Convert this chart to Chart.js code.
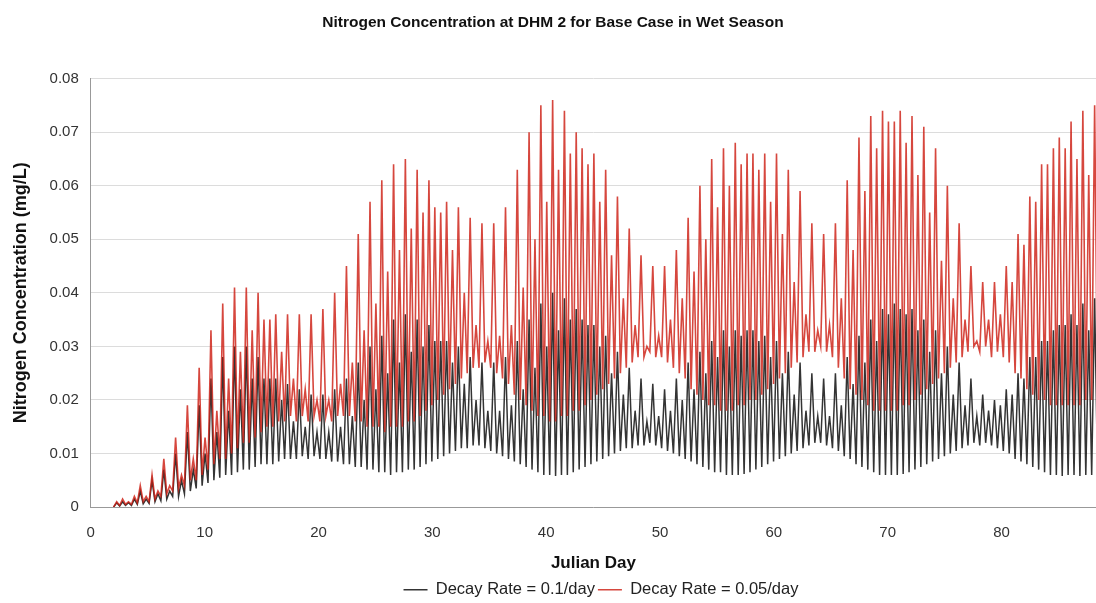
<!DOCTYPE html>
<html>
<head>
<meta charset="utf-8">
<title>Nitrogen Concentration at DHM 2</title>
<script src="https://cdn.jsdelivr.net/npm/chart.js@4.4.0/dist/chart.umd.min.js"></script>
<style>
  html, body { margin: 0; padding: 0; background: #fff; }
  #wrap { width: 1096px; height: 603px; }
</style>
</head>
<body>
<div id="wrap"><canvas id="chart" width="1096" height="603"></canvas></div>
<script>
// Model output sampled at each tidal high / low, one entry per semi-diurnal cycle.
const START_DAY = 2.0;
const FIRST_PEAK_DAY = 2.275;
const TIDE_PERIOD = 0.5175; // days between successive highs

// Decay rate = 0.05/day : concentration at each high
const redPeaks = [
  0.001, 0.0015, 0.001, 0.002, 0.004, 0.002, 0.006, 0.003, 0.009, 0.004,
  0.013, 0.006, 0.019, 0.009, 0.026, 0.013, 0.033, 0.018, 0.038, 0.024,
  0.041, 0.029, 0.041, 0.033, 0.040, 0.035, 0.035, 0.036, 0.029, 0.036,
  0.024, 0.036, 0.022, 0.036, 0.020, 0.037, 0.020, 0.040, 0.023, 0.045,
  0.027, 0.051, 0.033, 0.057, 0.038, 0.061, 0.044, 0.064, 0.048, 0.065,
  0.052, 0.063, 0.055, 0.061, 0.056, 0.055, 0.057, 0.048, 0.056, 0.040,
  0.054, 0.034, 0.053, 0.031, 0.053, 0.032, 0.056, 0.034, 0.063, 0.041,
  0.070, 0.050, 0.075, 0.057, 0.076, 0.063, 0.074, 0.066, 0.070, 0.067,
  0.064, 0.066, 0.057, 0.063, 0.047, 0.058, 0.039, 0.052, 0.034, 0.047,
  0.030, 0.045, 0.032, 0.045, 0.035, 0.048, 0.039, 0.054, 0.044, 0.060,
  0.050, 0.065, 0.056, 0.067, 0.060, 0.068, 0.064, 0.066, 0.066, 0.063,
  0.066, 0.057, 0.066, 0.051, 0.063, 0.042, 0.059, 0.036, 0.053, 0.033,
  0.051, 0.034, 0.053, 0.039, 0.061, 0.048, 0.069, 0.059, 0.073, 0.067,
  0.074, 0.072, 0.072, 0.074, 0.068, 0.073, 0.062, 0.071, 0.055, 0.067,
  0.046, 0.060, 0.039, 0.053, 0.035, 0.045, 0.031, 0.042, 0.035, 0.042,
  0.036, 0.045, 0.042, 0.051, 0.049, 0.058, 0.057, 0.064, 0.064, 0.067,
  0.069, 0.067, 0.072, 0.065, 0.074, 0.062, 0.075
];
// Decay rate = 0.05/day : concentration at the low following each high
const redTroughs = [
  0.0003, 0.0005, 0.0005, 0.0008, 0.001, 0.001,
  0.0015, 0.002, 0.0025, 0.003, 0.0035, 0.004,
  0.005, 0.005, 0.006, 0.007, 0.008, 0.009,
  0.009, 0.010, 0.011, 0.012, 0.012, 0.013,
  0.014, 0.015, 0.015, 0.016, 0.016, 0.017,
  0.016, 0.017, 0.016, 0.017, 0.016, 0.017,
  0.016, 0.017, 0.017, 0.017, 0.016, 0.016,
  0.015, 0.015, 0.015, 0.014, 0.015, 0.015,
  0.015, 0.016, 0.016, 0.017, 0.018, 0.019,
  0.020, 0.021, 0.022, 0.023, 0.024, 0.025,
  0.026, 0.026, 0.027, 0.026, 0.025, 0.024,
  0.023, 0.021, 0.020, 0.019, 0.018, 0.017,
  0.017, 0.016, 0.016, 0.017, 0.017, 0.018,
  0.018, 0.019, 0.020, 0.021, 0.022, 0.023,
  0.024, 0.025, 0.026, 0.027, 0.028, 0.028,
  0.029, 0.028, 0.028, 0.027, 0.026, 0.025,
  0.024, 0.022, 0.021, 0.020, 0.019, 0.019,
  0.018, 0.018, 0.018, 0.019, 0.019, 0.020,
  0.020, 0.021, 0.022, 0.023, 0.024, 0.025,
  0.026, 0.027, 0.028, 0.029, 0.029, 0.030,
  0.029, 0.028, 0.026, 0.024, 0.022, 0.021,
  0.020, 0.019, 0.018, 0.018, 0.018, 0.018,
  0.018, 0.019, 0.019, 0.020, 0.021, 0.022,
  0.023, 0.024, 0.025, 0.026, 0.027, 0.028,
  0.029, 0.030, 0.029, 0.030, 0.028, 0.029,
  0.028, 0.027, 0.025, 0.024, 0.022, 0.021,
  0.020, 0.020, 0.019, 0.019, 0.019, 0.019,
  0.019, 0.019, 0.020, 0.020, 0.020
];

// Decay rate = 0.1/day : concentration at each high
const blackPeaks = [
  0.0008, 0.001, 0.0008, 0.0015, 0.003, 0.0015, 0.005, 0.0025, 0.007, 0.003,
  0.010, 0.005, 0.014, 0.007, 0.019, 0.010, 0.024, 0.014, 0.028, 0.018,
  0.030, 0.022, 0.030, 0.024, 0.028, 0.024, 0.024, 0.024, 0.020, 0.023,
  0.016, 0.022, 0.015, 0.021, 0.014, 0.021, 0.014, 0.022, 0.015, 0.024,
  0.017, 0.027, 0.020, 0.030, 0.022, 0.032, 0.025, 0.035, 0.027, 0.036,
  0.029, 0.035, 0.030, 0.034, 0.031, 0.031, 0.031, 0.027, 0.030, 0.023,
  0.028, 0.020, 0.027, 0.018, 0.027, 0.018, 0.028, 0.019, 0.031, 0.022,
  0.035, 0.026, 0.038, 0.030, 0.040, 0.033, 0.039, 0.035, 0.037, 0.035,
  0.034, 0.034, 0.030, 0.032, 0.025, 0.029, 0.021, 0.026, 0.018, 0.024,
  0.016, 0.023, 0.017, 0.022, 0.018, 0.024, 0.020, 0.027, 0.022, 0.029,
  0.025, 0.031, 0.028, 0.033, 0.030, 0.033, 0.032, 0.033, 0.033, 0.031,
  0.032, 0.028, 0.031, 0.025, 0.029, 0.021, 0.027, 0.018, 0.025, 0.017,
  0.024, 0.017, 0.025, 0.019, 0.028, 0.023, 0.032, 0.027, 0.035, 0.031,
  0.037, 0.036, 0.038, 0.037, 0.036, 0.037, 0.033, 0.035, 0.029, 0.033,
  0.025, 0.030, 0.021, 0.027, 0.019, 0.024, 0.017, 0.021, 0.018, 0.020,
  0.019, 0.022, 0.021, 0.025, 0.024, 0.028, 0.028, 0.031, 0.031, 0.033,
  0.034, 0.034, 0.036, 0.034, 0.038, 0.033, 0.039
];
// Decay rate = 0.1/day : concentration at the low following each high
const blackTroughs = [
  0.0002, 0.0003, 0.0003, 0.0005, 0.0006, 0.0007,
  0.001, 0.0012, 0.0015, 0.002, 0.002, 0.0025,
  0.003, 0.0035, 0.004, 0.0045, 0.005, 0.0055,
  0.006, 0.006, 0.0065, 0.007, 0.007, 0.0075,
  0.008, 0.008, 0.008, 0.0085, 0.009, 0.009,
  0.009, 0.0095, 0.009, 0.0095, 0.009, 0.009,
  0.0085, 0.0085, 0.008, 0.008, 0.0075, 0.0075,
  0.007, 0.007, 0.0065, 0.0065, 0.006, 0.0065,
  0.0065, 0.007, 0.007, 0.0075, 0.008, 0.0085,
  0.009, 0.0095, 0.010, 0.0105, 0.011, 0.011,
  0.0115, 0.0115, 0.011, 0.0105, 0.010, 0.0095,
  0.009, 0.0085, 0.008, 0.0075, 0.007, 0.0065,
  0.006, 0.006, 0.0058, 0.006, 0.006, 0.0065,
  0.007, 0.0075, 0.008, 0.0085, 0.009, 0.0095,
  0.010, 0.0105, 0.011, 0.011, 0.0115, 0.0115,
  0.012, 0.0115, 0.011, 0.0105, 0.010, 0.0095,
  0.009, 0.0085, 0.008, 0.0075, 0.007, 0.0065,
  0.0065, 0.006, 0.006, 0.006, 0.0062, 0.0065,
  0.007, 0.0075, 0.008, 0.0085, 0.009, 0.0095,
  0.010, 0.0105, 0.011, 0.0115, 0.012, 0.012,
  0.0115, 0.011, 0.0105, 0.0095, 0.009, 0.008,
  0.0075, 0.007, 0.0065, 0.006, 0.006, 0.006,
  0.006, 0.0062, 0.0065, 0.007, 0.0075, 0.008,
  0.0085, 0.009, 0.0095, 0.010, 0.0105, 0.011,
  0.0115, 0.012, 0.0115, 0.012, 0.0115, 0.011,
  0.0105, 0.010, 0.009, 0.0085, 0.008, 0.0075,
  0.007, 0.0065, 0.006, 0.006, 0.0058, 0.006,
  0.006, 0.0058, 0.006, 0.006, 0.006
];

const SERIES_LABELS = ['Decay Rate = 0.1/day', 'Decay Rate = 0.05/day'];
const X_MAX = 88.3;
const FONT = '"Liberation Sans", Arial, sans-serif';

// interleave highs and lows on the tidal time axis
function buildSeries(peaks, troughs) {
  const pts = [{ x: START_DAY, y: 0 }];
  peaks.forEach((p, k) => {
    const t = FIRST_PEAK_DAY + k * TIDE_PERIOD;
    pts.push({ x: t, y: p });
    pts.push({ x: t + TIDE_PERIOD / 2, y: troughs[k] });
  });
  return pts;
}

// legend sits a little right of centre, under the axis title
const legendOffset = {
  id: 'legendOffset',
  afterLayout(chart) {
    const lg = chart.legend;
    lg.left += 48;
    lg.right += 48;
  },
};

Chart.defaults.font.family = FONT;
Chart.defaults.color = '#333';

new Chart(document.getElementById('chart'), {
  type: 'line',
  data: {
    datasets: [
      {
        label: SERIES_LABELS[0],
        data: buildSeries(blackPeaks, blackTroughs),
        borderColor: 'rgba(30,30,30,0.9)',
        backgroundColor: 'rgba(30,30,30,0.9)',
        borderWidth: 1.5,
        pointRadius: 0,
        tension: 0,
        order: 1,
      },
      {
        label: SERIES_LABELS[1],
        data: buildSeries(redPeaks, redTroughs),
        borderColor: 'rgba(205,30,20,0.82)',
        backgroundColor: 'rgba(205,30,20,0.82)',
        borderWidth: 1.6,
        pointRadius: 0,
        tension: 0,
        order: 0,
      },
    ],
  },
  plugins: [legendOffset],
  options: {
    responsive: false,
    animation: false,
    layout: { padding: { left: 10, right: 0, top: 0, bottom: -5 } },
    plugins: {
      title: {
        display: true,
        text: 'Nitrogen Concentration at DHM 2 for Base Case in Wet Season',
        font: { size: 15.5, weight: 'bold' },
        color: '#111',
        padding: { top: 13, bottom: 47 },
      },
      legend: {
        position: 'bottom',
        labels: {
          usePointStyle: true,
          pointStyle: 'line',
          pointStyleWidth: 24,
          font: { size: 16.5 },
          color: '#222',
          padding: 3,
          sort: (a, b) => a.datasetIndex - b.datasetIndex,
        },
      },
      tooltip: { enabled: false },
    },
    scales: {
      x: {
        type: 'linear',
        min: 0,
        max: X_MAX,
        ticks: { stepSize: 10, includeBounds: false, font: { size: 15 }, padding: 9 },
        grid: { display: false },
        border: { color: '#999' },
        title: { display: true, text: 'Julian Day', font: { size: 17, weight: 'bold' }, color: '#111', padding: { top: 2, bottom: 5 } },
      },
      y: {
        min: 0,
        max: 0.08,
        ticks: { stepSize: 0.01, font: { size: 15 }, padding: 12 },
        grid: { color: '#dcdcdc', drawTicks: false },
        border: { color: '#999' },
        title: { display: true, text: 'Nitrogen Concentration (mg/L)', font: { size: 18, weight: 'bold' }, color: '#111', padding: { top: 0, bottom: 6 } },
      },
    },
  },
});
</script>
</body>
</html>
